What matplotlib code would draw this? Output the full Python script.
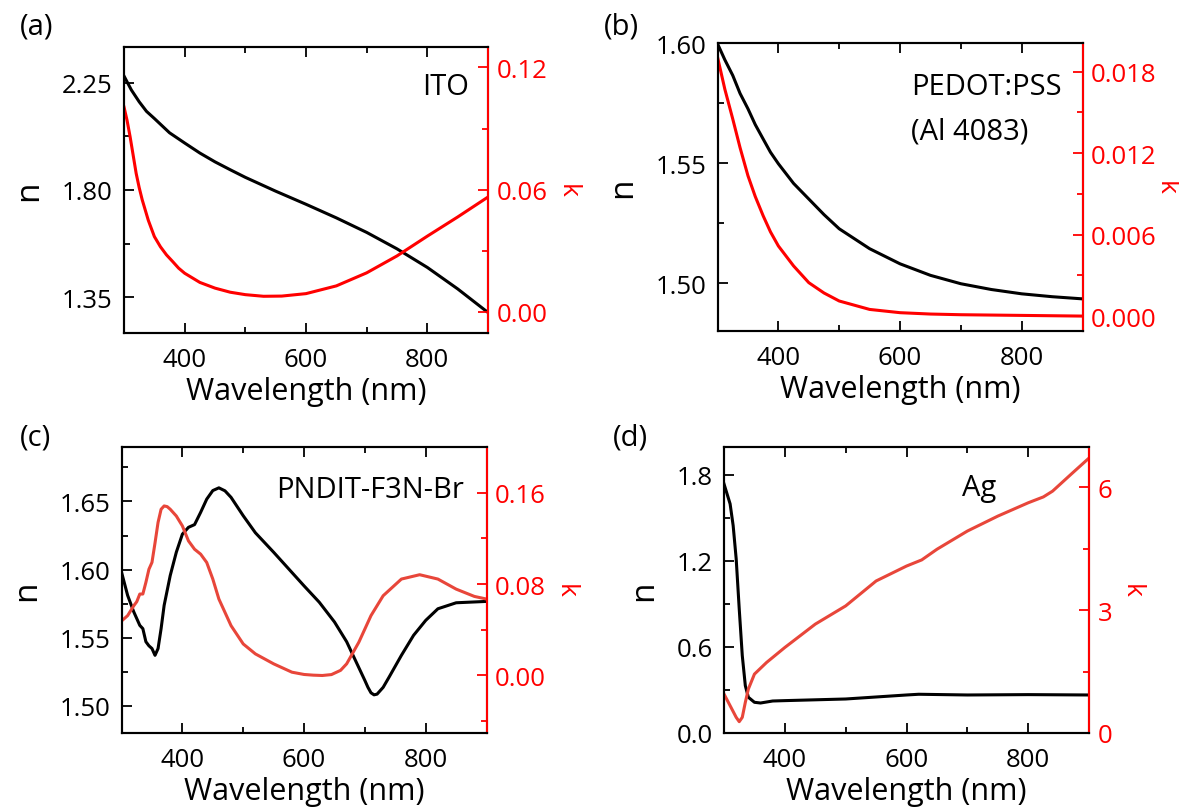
import matplotlib
matplotlib.use("Agg")
import matplotlib.pyplot as plt
from matplotlib.ticker import MultipleLocator, FormatStrFormatter

plt.rcParams.update({
    "font.family": ["Open Sans", "DejaVu Sans"],
    "font.size": 18,
    "xtick.direction": "in",
    "ytick.direction": "in",
    "xtick.major.size": 7,
    "ytick.major.size": 7,
    "xtick.minor.size": 4,
    "ytick.minor.size": 4,
    "xtick.major.width": 1.3,
    "ytick.major.width": 1.3,
    "xtick.minor.width": 1.3,
    "ytick.minor.width": 1.3,
    "axes.linewidth": 1.5,
})

# ---------------------------------------------------------------------------
# Data
# ---------------------------------------------------------------------------

# (a) ITO
ito_wl_n = [300, 312, 325, 337, 350, 375, 400, 425, 450, 475, 500, 550, 600,
            650, 700, 750, 800, 850, 900]
ito_n = [2.278, 2.22, 2.17, 2.13, 2.10, 2.04, 1.997, 1.955, 1.918, 1.885,
         1.853, 1.795, 1.740, 1.683, 1.622, 1.553, 1.475, 1.385, 1.286]
ito_wl_k = [300, 305, 310, 315, 320, 325, 330, 340, 350, 360, 370, 380, 390,
            400, 425, 450, 475, 500, 530, 560, 600, 650, 700, 750, 800, 850,
            900]
ito_k = [0.1005, 0.094, 0.086, 0.077, 0.068, 0.061, 0.055, 0.045, 0.037,
         0.032, 0.028, 0.0248, 0.0215, 0.019, 0.0145, 0.0117, 0.0097, 0.0085,
         0.0077, 0.0078, 0.009, 0.0128, 0.0192, 0.0275, 0.0372, 0.0466,
         0.0564]

# (b) PEDOT:PSS (Al 4083)
pedot_wl_n = [300, 312, 325, 337, 350, 362, 375, 387, 400, 425, 450, 475,
              500, 550, 600, 650, 700, 750, 800, 850, 900]
pedot_n = [1.5997, 1.593, 1.5865, 1.579, 1.5726, 1.566, 1.560, 1.5545,
           1.5497, 1.5415, 1.535, 1.5285, 1.5226, 1.5143, 1.508, 1.5032,
           1.4997, 1.4973, 1.4955, 1.4943, 1.4934]
pedot_wl_k = [300, 312, 325, 337, 350, 362, 375, 387, 400, 425, 450, 475,
              500, 525, 550, 600, 650, 700, 800, 900]
pedot_k = [0.01906, 0.0167, 0.01451, 0.0124, 0.01033, 0.0088, 0.00738,
           0.0062, 0.00516, 0.00369, 0.00246, 0.0017, 0.00111, 0.0008,
           0.00049, 0.00025, 0.00015, 0.0001, 0.00005, 0.0]

# (c) PNDIT-F3N-Br
pndit_wl_n = [300, 310, 320, 330, 335, 340, 345, 350, 355, 360, 365, 370,
              380, 390, 400, 410, 420, 430, 440, 450, 460, 470, 480, 500,
              520, 550, 600, 625, 650, 670, 690, 700, 705, 710, 715, 720,
              730, 740, 760, 780, 800, 820, 850, 900]
pndit_n = [1.598, 1.581, 1.569, 1.559, 1.5566, 1.547, 1.544, 1.542, 1.537,
           1.542, 1.5566, 1.5737, 1.5956, 1.6127, 1.626, 1.631, 1.633, 1.642,
           1.6517, 1.658, 1.660, 1.6578, 1.653, 1.6395, 1.627, 1.6127, 1.588,
           1.576, 1.5615, 1.547, 1.528, 1.5185, 1.5135, 1.5095, 1.508, 1.5085,
           1.5135, 1.5212, 1.537, 1.5517, 1.5627, 1.5712, 1.5756, 1.5766]
pndit_wl_k = [300, 310, 320, 325, 330, 335, 340, 345, 350, 355, 360, 365,
              370, 375, 380, 390, 400, 410, 420, 430, 440, 450, 460, 480,
              500, 520, 550, 580, 600, 615, 630, 645, 660, 670, 690, 710,
              730, 760, 790, 820, 850, 880, 900]
pndit_k = [0.0477, 0.0524, 0.061, 0.0646, 0.0713, 0.0713, 0.0815, 0.093,
           0.099, 0.116, 0.134, 0.1455, 0.1484, 0.1478, 0.1455, 0.1396,
           0.1309, 0.1178, 0.1105, 0.1062, 0.0989, 0.0844, 0.0669, 0.0436,
           0.0276, 0.0189, 0.0102, 0.0029, 0.0009, 0.0003, 0.0, 0.0008,
           0.0045, 0.0102, 0.0291, 0.0524, 0.0698, 0.0844, 0.0882, 0.0844,
           0.0756, 0.0692, 0.0669]

# (d) Ag
ag_wl_n = [300, 310, 315, 320, 325, 330, 335, 340, 350, 360, 380, 400,
           500, 600, 620, 700, 800, 900]
ag_n = [1.737, 1.598, 1.447, 1.214, 0.865, 0.54, 0.33, 0.249, 0.214, 0.209,
        0.223, 0.2256, 0.237, 0.265, 0.27, 0.265, 0.2675, 0.265]
ag_wl_k = [300, 310, 320, 325, 330, 335, 340, 350, 370, 400, 450, 500, 550,
           600, 625, 650, 700, 750, 800, 825, 840, 870, 900]
ag_k = [0.951, 0.667, 0.382, 0.276, 0.382, 0.748, 1.073, 1.439, 1.724, 2.09,
        2.66, 3.106, 3.715, 4.08, 4.23, 4.49, 4.935, 5.30, 5.626, 5.77, 5.91,
        6.317, 6.72]

RED = "#FF0000"
TOMATO = "#E8463A"


def setup_panel(rect, letter, letter_xy, wl_n, n, wl_k, k, k_color,
                n_lim, n_major, n_fmt, k_lim, k_major, k_fmt, k_pad=5):
    ax = fig.add_axes(rect)
    ax.plot(wl_n, n, color="black", lw=2.2)
    ax.set_xlim(300, 900)
    ax.set_ylim(*n_lim)
    ax.xaxis.set_major_locator(MultipleLocator(200))
    ax.xaxis.set_minor_locator(MultipleLocator(100))
    ax.yaxis.set_major_locator(MultipleLocator(n_major))
    ax.yaxis.set_minor_locator(MultipleLocator(n_major / 2))
    ax.yaxis.set_major_formatter(FormatStrFormatter(n_fmt))
    ax.tick_params(axis="x", which="both", top=True)
    ax.tick_params(axis="x", labelsize=18.5, pad=10)
    ax.tick_params(axis="y", labelsize=18.5, pad=8)
    ax.set_xlabel("Wavelength (nm)", fontsize=22, labelpad=3)
    ax.set_ylabel("n", fontsize=24, labelpad=12)

    ax2 = ax.twinx()
    ax2.plot(wl_k, k, color=k_color, lw=2.2)
    ax2.set_ylim(*k_lim)
    ax2.yaxis.set_major_locator(MultipleLocator(k_major))
    ax2.yaxis.set_minor_locator(MultipleLocator(k_major / 2))
    ax2.yaxis.set_major_formatter(FormatStrFormatter(k_fmt))
    ax2.tick_params(axis="y", which="both", colors=RED, labelsize=18.5, pad=6)
    ax2.spines["right"].set_color(RED)
    ax2.set_ylabel("k", fontsize=19, color=RED, rotation=270, va="bottom",
                   labelpad=k_pad)

    fig.text(letter_xy[0], letter_xy[1], letter, fontsize=21,
             ha="left", va="top")
    return ax


fig = plt.figure(figsize=(11.79, 8.12), dpi=100)

ax_a = setup_panel([0.1052, 0.5887, 0.3087, 0.3522], "(a)", (0.017, 0.985),
                   ito_wl_n, ito_n, ito_wl_k, ito_k, RED,
                   (1.20, 2.40), 0.45, "%.2f", (-0.0103, 0.130), 0.06, "%.2f")
ax_a.text(0.948, 0.836, "ITO", transform=ax_a.transAxes, fontsize=21,
          ha="right", va="baseline")

ax_b = setup_panel([0.6086, 0.5911, 0.3096, 0.3547], "(b)", (0.512, 0.985),
                   pedot_wl_n, pedot_n, pedot_wl_k, pedot_k, RED,
                   (1.480, 1.600), 0.05, "%.2f", (-0.0011, 0.0201), 0.006, "%.3f",
                   k_pad=-3)
ax_b.text(0.53, 0.823, "PEDOT:PSS", transform=ax_b.transAxes, fontsize=21,
          ha="left", va="baseline")
ax_b.text(0.53, 0.667, "(Al 4083)", transform=ax_b.transAxes, fontsize=21,
          ha="left", va="baseline")

ax_c = setup_panel([0.1031, 0.0961, 0.3096, 0.3522], "(c)", (0.017, 0.478),
                   pndit_wl_n, pndit_n, pndit_wl_k, pndit_k, TOMATO,
                   (1.480, 1.690), 0.05, "%.2f", (-0.0503, 0.20), 0.08, "%.2f")
ax_c.text(0.937, 0.825, "PNDIT-F3N-Br", transform=ax_c.transAxes, fontsize=21,
          ha="right", va="baseline")

ax_d = setup_panel([0.6141, 0.0961, 0.3096, 0.3522], "(d)", (0.520, 0.478),
                   ag_wl_n, ag_n, ag_wl_k, ag_k, TOMATO,
                   (0.0, 1.995), 0.6, "%.1f", (0.0, 6.99), 3, "%d")
ax_d.text(0.652, 0.832, "Ag", transform=ax_d.transAxes, fontsize=21,
          ha="left", va="baseline")

fig.savefig("out.png", dpi=100)
